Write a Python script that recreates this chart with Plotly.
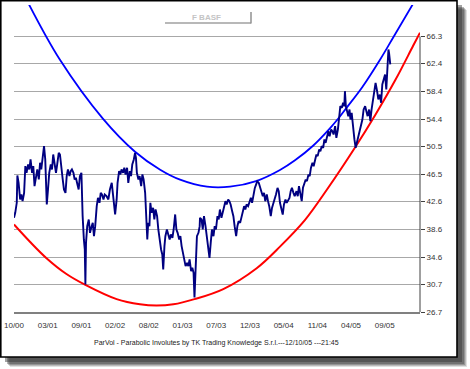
import plotly.graph_objects as go

# ---------------- data ----------------
x_tick_vals = [0, 110, 220, 330, 440, 550, 660, 770, 880, 990, 1100, 1210]
x_tick_text = ["10/00", "03/01", "09/01", "02/02", "08/02", "01/03",
               "07/03", "12/03", "05/04", "11/04", "04/05", "09/05"]
y_tick_vals = [26.7, 30.7, 34.6, 38.6, 42.6, 46.5, 50.5, 54.4, 58.4, 62.4, 66.3]

price_idx = [
    0, 4, 9, 11, 15, 20, 24, 28, 33, 37, 41, 46, 50, 54, 59, 63, 67, 72, 76, 81,
    85, 89, 94, 98, 102, 107, 111, 115, 120, 124, 128, 133, 137, 141, 146, 150,
    154, 159, 163, 168, 172, 176, 181, 185, 189, 194, 198, 202, 207, 211, 215,
    220, 224, 226, 228, 231, 233, 235, 239, 244, 248, 252, 257, 261, 265, 270,
    274, 279, 283, 287, 292, 296,
    302, 308, 313, 319, 324, 330, 335, 338, 343, 347, 351, 356, 360, 364, 369,
    373, 378, 382, 386, 391, 395, 398, 401, 406, 410, 415, 419, 423, 428, 432,
    435, 438, 442, 445, 449, 454, 458, 462, 467, 471, 475, 480, 484, 487, 491,
    494, 499, 504, 508, 512, 517, 521, 526, 530, 534, 539, 543, 547, 552, 556,
    560, 565, 569, 573, 578, 582, 586, 589, 591, 593, 597, 602, 606,
    607, 612, 616, 620, 625, 629, 633, 638, 642, 646, 651, 655, 659, 664, 668,
    672, 677, 681, 685, 690, 694, 699, 703, 707, 712, 716, 720, 725, 729, 733,
    738, 742, 746, 751, 755, 759, 764, 768, 773, 777, 781, 786, 790, 794, 799,
    803, 807, 812, 816, 820, 825, 829, 833, 838, 842, 847, 851, 855, 860, 864,
    868, 873, 877, 881, 886, 890, 894, 899, 903, 907, 912, 916,
    922, 926, 930, 935, 939, 943, 948, 952, 956, 961, 965, 969, 974, 978, 983,
    987, 991, 996, 1000, 1004, 1009, 1013, 1017, 1022, 1026, 1030, 1035, 1039,
    1043, 1048, 1052, 1057, 1061, 1065, 1070, 1074, 1078, 1080, 1083, 1087,
    1091, 1095, 1098, 1102, 1107, 1111, 1115, 1120, 1124, 1128, 1133, 1137,
    1141, 1146, 1150, 1154, 1159, 1163, 1167, 1172, 1176, 1180, 1185, 1189,
    1194, 1198, 1202, 1207, 1211, 1215, 1220, 1222, 1224, 1226, 1228,
]
price_val = [
    40.24, 40.96, 42.40, 46.33, 45.27, 42.88, 43.59, 42.64, 43.83, 47.67, 46.71,
    47.91, 47.19, 48.63, 46.71, 47.67, 44.79, 46.23, 47.19, 45.75, 48.15, 47.19,
    49.10, 50.54, 48.63, 42.16, 44.31, 46.71, 47.91, 47.19, 49.34, 47.67, 46.71,
    47.91, 49.58, 49.34, 47.19, 45.75, 44.31, 43.83, 46.23, 47.19, 46.23, 46.95,
    47.19, 46.71, 45.75, 45.99, 45.03, 44.31, 46.23, 46.71, 40.48, 37.60, 37.13,
    35.69, 30.66, 36.65, 39.04, 40.00, 38.08, 38.80, 39.52, 37.60, 39.04, 41.92,
    43.11, 42.40, 43.83, 43.59, 42.88, 43.59,
    43.35, 42.88, 44.31, 45.27, 43.35, 40.72, 42.88, 45.27, 46.95, 46.47, 47.19,
    46.71, 47.43, 46.47, 47.43, 45.27, 46.95, 46.23, 47.91, 48.63, 49.58, 48.86,
    46.71, 45.75, 46.23, 44.79, 46.47, 45.75, 43.83, 40.96, 37.13, 39.52, 39.04,
    42.40, 40.96, 41.68, 40.00, 41.44, 40.48, 38.56, 37.13, 35.69, 34.97, 32.81,
    36.17, 37.60, 38.56, 37.84, 37.13, 37.84, 37.36, 38.56, 40.72, 38.56, 38.08,
    37.13, 37.60, 36.17, 34.97, 34.49, 33.29, 33.77, 33.29, 34.25, 32.57, 33.05,
    32.33, 28.80, 31.38, 34.25, 37.60, 38.08, 39.04,
    40.23, 40.00, 38.56, 40.47, 39.03, 37.60, 36.16, 34.48, 36.64, 38.56, 37.60,
    39.03, 38.56, 40.47, 40.00, 41.43, 40.23, 40.95, 41.91, 42.63, 42.15, 42.87,
    42.63, 42.15, 41.19, 40.47, 39.03, 37.60, 39.03, 39.75, 39.51, 40.23, 41.19,
    41.91, 41.43, 42.15, 41.91, 42.63, 43.11, 42.39, 43.59, 44.54, 45.02, 45.50,
    45.26, 44.78, 44.07, 43.35, 43.83, 42.63, 43.59, 42.63, 41.91, 40.47, 41.67,
    42.39, 42.87, 43.59, 44.54, 44.07, 42.39, 41.43, 40.71, 42.15, 42.87, 42.39,
    42.63, 43.11, 44.07, 44.54, 43.83, 43.35,
    44.07, 43.35, 44.79, 43.35, 42.63, 44.55, 45.27, 45.75, 45.51, 46.46, 46.23,
    47.42, 48.14, 47.66, 48.62, 49.34, 49.10, 50.06, 49.82, 50.54, 50.30, 51.50,
    51.02, 51.97, 52.69, 51.97, 52.93, 52.69, 52.21, 53.41, 51.73, 52.93, 54.85,
    56.29, 56.05, 56.77, 56.29, 58.44, 56.29, 55.57, 54.85, 55.81, 54.37, 55.33,
    52.45, 51.50, 50.30, 51.26, 51.97, 52.93, 53.89, 54.37, 55.81, 56.29, 55.57,
    54.85, 55.81, 54.13, 55.81, 57.25, 58.21, 59.64, 58.44, 57.25, 57.96, 56.77,
    59.40, 60.36, 60.84, 58.68, 63.23, 64.43, 63.95, 62.52, 62.28,
]

upper_idx = [49, 150, 290, 395, 477, 542, 630, 705, 793, 868, 917, 976,
             1031, 1059, 1087, 1137, 1195, 1238, 1301]
upper_val = [70.90, 62.95, 54.50, 49.74, 47.15, 45.72, 44.71, 44.71, 45.55,
             47.10, 48.50, 50.60, 53.10, 54.55, 56.15, 59.05, 63.00, 66.20, 70.90]

lower_idx = [0, 52, 107, 170, 233, 335, 411, 465, 520, 589, 683, 792, 868,
             950, 1026, 1113, 1178, 1244, 1303, 1325]
lower_val = [39.28, 36.80, 34.40, 32.20, 30.60, 28.55, 27.80, 27.62, 27.80,
             28.55, 30.00, 33.00, 36.10, 39.95, 44.60, 50.35, 54.95, 60.00,
             65.00, 66.85]

title_text = "F BASF"
footer_text = "ParVol - Parabolic Involutes by TK Trading Knowledge S.r.l.---12/10/05 ---21:45"

# ---------------- layout geometry ----------------
W, H = 470, 369
L, R, T, B = 14, 50, 5, 57
PW, PH = W - L - R, H - T - B
PX_PER_UNIT = 6.957
Y_MIN = y_tick_vals[0]
Y_MAX = Y_MIN + PH / PX_PER_UNIT
X_MAX = 1325


def px(xp):
    return (xp - L) / PW


def py(yp):
    return (H - B - yp) / PH


FONT = "Liberation Sans, Arial, sans-serif"

fig = go.Figure()
fig.add_trace(go.Scatter(x=lower_idx, y=lower_val, mode="lines",
                         line=dict(color="#ff0000", width=2, shape="spline", smoothing=1.0),
                         hoverinfo="skip"))
fig.add_trace(go.Scatter(x=upper_idx, y=upper_val, mode="lines",
                         line=dict(color="#0000ff", width=1.8, shape="spline", smoothing=1.0),
                         hoverinfo="skip"))
fig.add_trace(go.Scatter(x=price_idx, y=price_val, mode="lines",
                         line=dict(color="#000080", width=1.9)))

shapes = []
# soft drop shadow
for off, op in [(10, 0.15), (9, 0.22), (8, 0.28), (7, 0.35), (5, 0.45)]:
    shapes.append(dict(type="rect", xref="paper", yref="paper", layer="below",
                       x0=px(0 + off), x1=px(457 + off), y0=py(357 + off), y1=py(0 + off),
                       fillcolor=f"rgba(50,50,50,{op})", line=dict(width=0)))
# white frame with black border
shapes.append(dict(type="rect", xref="paper", yref="paper", layer="below",
                   x0=px(0.8), x1=px(457), y0=py(357), y1=py(0.8),
                   fillcolor="white", line=dict(color="black", width=1.6)))
# right axis line only between first and last tick
shapes.append(dict(type="line", xref="paper", yref="y", x0=1, x1=1,
                   y0=y_tick_vals[0], y1=y_tick_vals[-1],
                   line=dict(color="#404040", width=1)))
# title box (raised button look)
shapes.append(dict(type="line", xref="paper", yref="paper",
                   x0=px(165), x1=px(251), y0=py(23), y1=py(23),
                   line=dict(color="#a0a0a0", width=1.5)))
shapes.append(dict(type="line", xref="paper", yref="paper",
                   x0=px(251), x1=px(251), y0=py(12), y1=py(23.5),
                   line=dict(color="#909090", width=1.5)))

annotations = [
    dict(text=f"<b>{title_text}</b>", xref="paper", yref="paper", x=px(206), y=py(17),
         xanchor="center", yanchor="middle", showarrow=False,
         font=dict(family=FONT, size=8, color="#c4c4c4")),
    dict(text=footer_text, xref="paper", yref="paper", x=px(216), y=py(343),
         xanchor="center", yanchor="middle", showarrow=False,
         font=dict(family=FONT, size=7, color="#222222")),
]

fig.update_layout(
    width=W, height=H,
    margin=dict(l=L, r=R, t=T, b=B, pad=0),
    paper_bgcolor="white", plot_bgcolor="rgba(0,0,0,0)",
    showlegend=False,
    shapes=shapes, annotations=annotations,
    font=dict(family=FONT, size=8, color="#333333"),
    xaxis=dict(range=[0, X_MAX], tickvals=x_tick_vals, ticktext=x_tick_text,
               showgrid=False, zeroline=False, showline=True, automargin=False,
               linecolor="#808080", linewidth=2, ticks="", ticklabelstandoff=4,
               tickfont=dict(family=FONT, size=8, color="#333333")),
    yaxis=dict(range=[Y_MIN, Y_MAX], tickvals=y_tick_vals,
               ticktext=[f"{v:.1f}" for v in y_tick_vals], automargin=False,
               side="right", showgrid=True, gridcolor="#a8a8a8", gridwidth=1,
               zeroline=False, showline=False, ticks="outside", ticklen=4,
               tickcolor="#404040",
               tickfont=dict(family=FONT, size=8, color="#333333")),
)

fig.write_html("out.html", config={"displayModeBar": False},
               post_script="document.body.style.margin='0px';document.body.style.overflow='hidden';")
